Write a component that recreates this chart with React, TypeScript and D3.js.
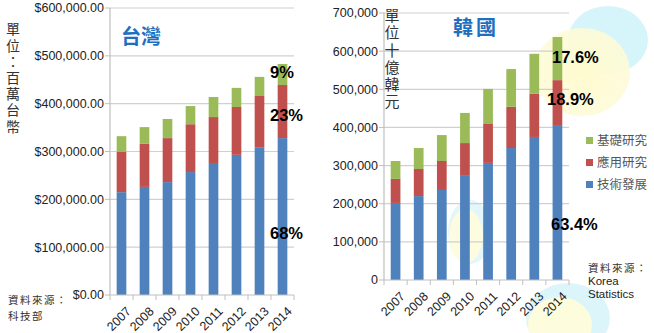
import React from "react";
import * as d3 from "d3";

const years = ["2007", "2008", "2009", "2010", "2011", "2012", "2013", "2014"];

// 台灣 (百萬台幣)
const twTech = [215000, 226000, 236000, 257000, 276000, 293000, 309000, 328000];
const twApplied = [84000, 90000, 92000, 100000, 96000, 100000, 107000, 111000];
const twBasic = [33000, 35000, 40000, 38000, 42000, 40000, 40000, 44000];
const twTicks = [0, 100000, 200000, 300000, 400000, 500000, 600000];
const twPct = ["9%", "23%", "68%"];

// 韓國 (十億韓元)
const krTech = [202000, 220000, 236000, 273000, 307000, 346000, 375000, 404000];
const krApplied = [63000, 71000, 76000, 86000, 102000, 108000, 113000, 120000];
const krBasic = [47000, 55000, 68000, 79000, 92000, 99000, 105000, 113000];
const krTicks = [0, 100000, 200000, 300000, 400000, 500000, 600000, 700000];
const krPct = ["17.6%", "18.9%", "63.4%"];

const seriesNames = ["基礎研究", "應用研究", "技術發展"];
const colors = { tech: "#4f81bd", applied: "#c0504d", basic: "#9bbb59" };

const FONT = "'Liberation Sans', Arial, sans-serif";
const CJK = "'Noto Sans CJK TC', sans-serif";

type ChartProps = {
  tech: number[];
  applied: number[];
  basic: number[];
  ticks: number[];
  fmt: (v: number) => string;
  x0: number;
  x1: number;
  yTop: number;
  yBot: number;
  maxV: number;
};

function Chart({ tech, applied, basic, ticks, fmt, x0, x1, yTop, yBot, maxV }: ChartProps) {
  const x = d3.scaleBand<string>().domain(years).range([x0, x1]).padding(0);
  const y = d3.scaleLinear().domain([0, maxV]).range([yBot, yTop]);
  const bw = x.bandwidth();
  const barW = bw * 0.42;
  const stack = d3
    .stack<any>()
    .keys(["tech", "applied", "basic"])(
      years.map((yr, i) => ({ yr, tech: tech[i], applied: applied[i], basic: basic[i] }))
    );
  return (
    <g>
      {ticks.map((t) => (
        <g key={t}>
          {t > 0 && <line x1={x0} x2={x1} y1={y(t)} y2={y(t)} stroke="#d0d0d0" strokeWidth={1.2} />}
          <line x1={x0 - 5} x2={x0} y1={y(t)} y2={y(t)} stroke="#bfbfbf" />
          <text x={x0 - 6} y={y(t)} dy="0.35em" textAnchor="end" fontFamily={FONT} fontSize={12.5} fill="#222">
            {fmt(t)}
          </text>
        </g>
      ))}
      <line x1={x0} x2={x0} y1={yTop} y2={yBot} stroke="#bfbfbf" strokeWidth={1.2} />
      {stack.map((layer) => (
        <g key={layer.key} fill={(colors as any)[layer.key]}>
          {layer.map((d, i) => (
            <rect
              key={i}
              x={(x(years[i]) as number) + (bw - barW) / 2}
              width={barW}
              y={y(d[1])}
              height={y(d[0]) - y(d[1])}
            />
          ))}
        </g>
      ))}
      <line x1={x0} x2={x1} y1={yBot} y2={yBot} stroke="#bfbfbf" strokeWidth={1.2} />
      {years.map((yr) => (
        <line
          key={"t" + yr}
          x1={(x(yr) as number) + bw}
          x2={(x(yr) as number) + bw}
          y1={yBot}
          y2={yBot + 5}
          stroke="#bfbfbf"
        />
      ))}
      <line x1={x0} x2={x0} y1={yBot} y2={yBot + 5} stroke="#bfbfbf" />
      {years.map((yr) => (
        <text
          key={"l" + yr}
          transform={`translate(${(x(yr) as number) + bw / 2 + 4},${yBot + 11}) rotate(-45)`}
          textAnchor="end"
          dy="0.7em"
          fontFamily={FONT}
          fontSize={12.5}
          fill="#222"
        >
          {yr}
        </text>
      ))}
    </g>
  );
}

function Vertical({ text, x, y0, spacing, size }: { text: string; x: number; y0: number; spacing: number; size: number }) {
  return (
    <text
      x={x}
      y={y0}
      fontFamily={CJK}
      fontSize={size}
      fill="#333"
      letterSpacing={spacing}
      style={{ writingMode: "vertical-rl", textOrientation: "upright" } as any}
    >
      {text}
    </text>
  );
}

export default function App() {
  const legendColors = [colors.basic, colors.applied, colors.tech];
  return (
    <svg
      width={654}
      height={333}
      style={{ position: "absolute", left: 0, top: 0, background: "#fff" }}
    >
      <defs>
        <radialGradient id="gy" cx="50%" cy="50%" r="50%">
          <stop offset="0%" stopColor="#fffbd0" stopOpacity={1} />
          <stop offset="100%" stopColor="#fdfbd8" stopOpacity={0.9} />
        </radialGradient>
      </defs>
      {/* decorative blobs */}
      <ellipse cx={608} cy={40} rx={40} ry={34} fill="#d6f5fb" />
      <ellipse cx={582} cy={72} rx={48} ry={44} fill="url(#gy)" />
      <ellipse cx={470} cy={232} rx={22} ry={32} fill="#e2f6fb" />
      <ellipse cx={466} cy={236} rx={17} ry={27} fill="#fdfce0" />
      <ellipse cx={568} cy={318} rx={42} ry={35} fill="#dcf5fb" />
      <ellipse cx={560} cy={325} rx={32} ry={28} fill="#fdfcdc" />

      <Chart
        tech={twTech}
        applied={twApplied}
        basic={twBasic}
        ticks={twTicks}
        fmt={(v) => "$" + d3.format(",.2f")(v)}
        x0={110}
        x1={294}
        yTop={8}
        yBot={295}
        maxV={600000}
      />
      <Chart
        tech={krTech}
        applied={krApplied}
        basic={krBasic}
        ticks={krTicks}
        fmt={(v) => d3.format(",")(v)}
        x0={384}
        x1={569}
        yTop={13}
        yBot={280}
        maxV={700000}
      />

      {/* titles */}
      <text x={121} y={37} dy="0.35em" fontFamily={CJK} fontWeight="bold" fontSize={20} fill="#1f6fc0">
        台灣
      </text>
      <text x={453} y={28} dy="0.35em" fontFamily={CJK} fontWeight="bold" fontSize={20} fill="#1f6fc0" letterSpacing={3}>
        韓國
      </text>

      <Vertical text="單位：百萬台幣" x={13} y0={22} spacing={2.2} size={14} />
      <Vertical text="單位十億韓元" x={392} y0={8} spacing={2.2} size={15} />

      {/* percentages */}
      {[
        { t: twPct[0], x: 270, y: 72 },
        { t: twPct[1], x: 270, y: 115 },
        { t: twPct[2], x: 270, y: 233 },
        { t: krPct[0], x: 552, y: 57 },
        { t: krPct[1], x: 547, y: 99 },
        { t: krPct[2], x: 551, y: 224 },
      ].map((p, i) => (
        <text key={i} x={p.x} y={p.y} dy="0.35em" fontFamily={FONT} fontWeight="bold" fontSize={16.5} fill="#000">
          {p.t}
        </text>
      ))}

      {/* legend */}
      {seriesNames.map((n, i) => (
        <g key={n}>
          <rect x={586} y={137 + i * 22} width={7} height={7} fill={legendColors[i]} />
          <text x={597} y={140.5 + i * 22} dy="0.35em" fontFamily={CJK} fontSize={12.5} fill="#555">
            {n}
          </text>
        </g>
      ))}

      {/* sources */}
      <text x={8} y={300} dy="0.35em" fontFamily={CJK} fontSize={10.5} fill="#333" letterSpacing={1.5}>
        資料來源：
      </text>
      <text x={8} y={316} dy="0.35em" fontFamily={CJK} fontSize={10.5} fill="#333" letterSpacing={1.5}>
        科技部
      </text>
      <text x={588} y={268} dy="0.35em" fontFamily={CJK} fontSize={10.5} fill="#333" letterSpacing={1.5}>
        資料來源：
      </text>
      <text x={588} y={281} dy="0.35em" fontFamily={FONT} fontSize={11.5} fill="#222">
        Korea
      </text>
      <text x={588} y={294} dy="0.35em" fontFamily={FONT} fontSize={11.5} fill="#222">
        Statistics
      </text>
    </svg>
  );
}
